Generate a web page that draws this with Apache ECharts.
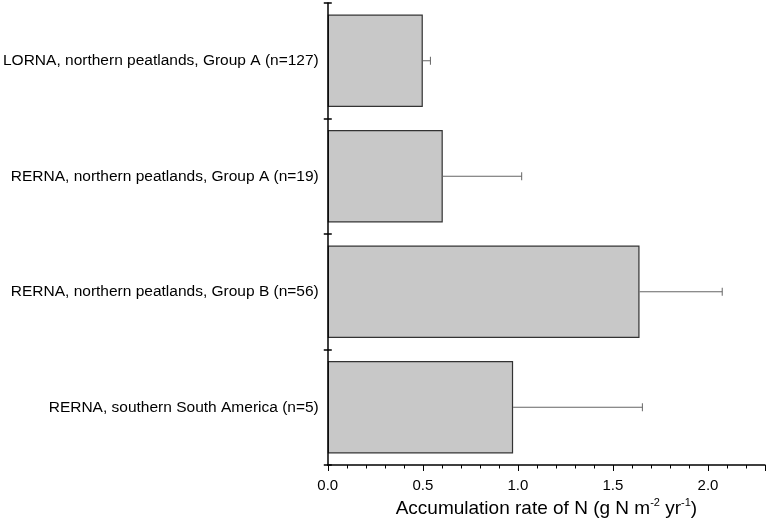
<!DOCTYPE html>
<html>
<head>
<meta charset="utf-8">
<script src="https://cdn.jsdelivr.net/npm/echarts@6/dist/echarts.min.js"></script>
<style>html,body{margin:0;padding:0;background:#fff}#c{width:768px;height:526px}</style>
</head>
<body>
<div id="c"></div>
<script>
var categories = [
  'LORNA, northern peatlands, Group A (n=127)',
  'RERNA, northern peatlands, Group A (n=19)',
  'RERNA, northern peatlands, Group B (n=56)',
  'RERNA, southern South America (n=5)'
];
var means = [0.50, 0.605, 1.64, 0.975];
var upper = [0.54, 1.02, 2.075, 1.655];
var xTicks = [0, 0.5, 1.0, 1.5, 2.0];

var chart = echarts.init(document.getElementById('c'), null, {renderer: 'canvas'});
var font = 'Liberation Sans, Arial, sans-serif';
chart.setOption({
  animation: false,
  grid: {left: 327, right: 2, top: 3, bottom: 61, containLabel: false},
  xAxis: {
    type: 'value', min: 0, max: 2.3, interval: 0.5,
    name: 'Accumulation rate of N (g N m{sup|-2} yr{sup|-1})',
    nameLocation: 'middle', nameGap: 32,
    nameTextStyle: {
      fontFamily: font, fontSize: 19, color: '#000',
      rich: {sup: {fontSize: 11, verticalAlign: 'top', padding: [0, 0, 11, 0], fontFamily: font, color: '#000'}}
    },
    axisLine: {show: true, onZero: false, lineStyle: {color: '#000', width: 1.5}},
    axisTick: {show: true, length: 6, inside: false, lineStyle: {color: '#000', width: 1}},
    minorTick: {show: true, splitNumber: 5, length: 3.5, lineStyle: {color: '#000', width: 1}},
    splitLine: {show: false},
    axisLabel: {
      fontFamily: font, fontSize: 15, color: '#000', margin: 13,
      formatter: function (v) { return xTicks.indexOf(v) >= 0 ? v.toFixed(1) : ''; }
    }
  },
  yAxis: [{
    type: 'category', data: categories, inverse: true,
    axisLine: {show: true, lineStyle: {color: '#000', width: 1.5}},
    axisTick: {show: false},
    axisLabel: {fontFamily: font, fontSize: 15.5, color: '#000', margin: 9},
    z: 5
  }, {
    type: 'category', data: categories, inverse: true, position: 'left', offset: -4,
    axisLine: {show: false},
    axisTick: {show: true, length: 8, inside: false, lineStyle: {color: '#000', width: 1.5}},
    axisLabel: {show: false},
    z: 5
  }],
  series: [
    {
      type: 'bar', data: means, barWidth: '80%',
      itemStyle: {color: '#c8c8c8', borderColor: '#333', borderWidth: 1.2},
      z: 2
    },
    {
      type: 'custom', z: 3,
      data: means.map(function (m, i) { return [i, m, upper[i]]; }),
      encode: {x: [1, 2], y: 0},
      renderItem: function (params, api) {
        var i = api.value(0);
        var p0 = api.coord([api.value(1), i]);
        var p1 = api.coord([api.value(2), i]);
        var cap = 4;
        var st = {stroke: '#666', lineWidth: 1};
        return {
          type: 'group',
          children: [
            {type: 'line', shape: {x1: p0[0], y1: p0[1], x2: p1[0], y2: p1[1]}, style: st},
            {type: 'line', shape: {x1: p1[0], y1: p1[1] - cap, x2: p1[0], y2: p1[1] + cap}, style: st}
          ]
        };
      }
    }
  ]
});
</script>
</body>
</html>
